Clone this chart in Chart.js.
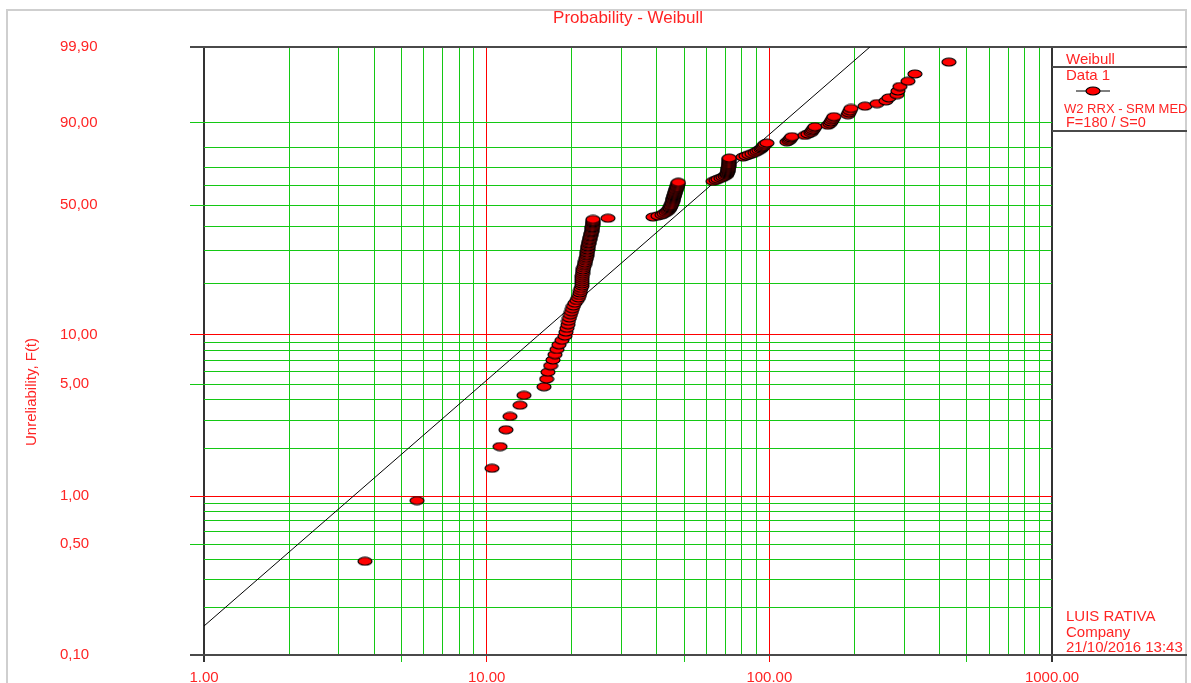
<!DOCTYPE html>
<html>
<head>
<meta charset="utf-8">
<title>Probability - Weibull</title>
<script src="https://cdn.jsdelivr.net/npm/chart.js@4.4.1/dist/chart.umd.min.js"></script>
<style>
  html, body { margin: 0; padding: 0; background: #fff; }
  #chart { display: block; }
</style>
</head>
<body>
<canvas id="chart" width="1191" height="683"></canvas>
<script>
// Weibull probability plot - 180 failures, median ranks

// failure times (sorted)
const failTimes = [
    3.71, 5.67, 10.44, 11.15, 11.70, 12.09, 13.12, 13.55, 15.95, 16.30,
    16.48, 16.84, 17.16, 17.44, 17.73, 18.02, 18.47, 18.92, 19.08, 19.23,
    19.39, 19.47, 19.63, 19.79, 19.95, 20.11, 20.28, 20.53, 20.86, 21.12,
    21.29, 21.38, 21.47, 21.56, 21.73, 21.73, 21.73, 21.73, 21.73, 21.79,
    21.83, 21.88, 21.91, 22.00, 22.10, 22.19, 22.27, 22.36, 22.46, 22.51,
    22.58, 22.64, 22.67, 22.71, 22.75, 22.78, 22.82, 22.88, 22.93, 23.01,
    23.06, 23.12, 23.19, 23.25, 23.31, 23.38, 23.44, 23.50, 23.58, 23.60,
    23.63, 23.65, 23.69, 23.71, 23.74, 23.77, 23.77, 23.77, 26.86, 38.75,
    40.36, 41.70, 42.39, 43.09, 43.62, 43.98, 44.33, 44.51, 44.70, 44.88,
    45.06, 45.25, 45.36, 45.47, 45.58, 45.69, 45.80, 45.91, 46.02, 46.14,
    46.25, 46.36, 46.48, 46.63, 46.77, 46.93, 47.08, 47.20, 47.31, 47.43,
    47.54, 47.66, 63.17, 64.73, 65.80, 67.43, 68.54, 69.66, 70.53, 70.80,
    70.99, 71.15, 71.33, 71.44, 71.56, 71.67, 71.74, 71.79, 71.85, 71.90,
    71.97, 71.97, 72.03, 72.09, 72.15, 80.66, 82.65, 84.69, 86.78, 88.92,
    90.39, 91.88, 93.39, 94.16, 94.93, 95.70, 96.48, 98.06, 115.4, 117.3,
    118.3, 119.2, 120.2, 133.6, 136.9, 140.3, 141.4, 142.6, 143.8, 145.0,
    161.2, 163.8, 165.2, 166.5, 167.9, 169.2, 189.7, 191.2, 192.8, 194.4,
    217.9, 240.3, 258.5, 264.9, 282.8, 285.1, 289.7, 309.3, 327.3, 431.9
];

// unreliability F(t) in %, one per failure
const unreliability = [
    0.39, 0.94, 1.50, 2.05, 2.61, 3.16, 3.71, 4.27, 4.82, 5.38,
    5.93, 6.49, 7.04, 7.59, 8.15, 8.70, 9.26, 9.81, 10.37, 10.92,
    11.47, 12.03, 12.58, 13.14, 13.69, 14.25, 14.80, 15.35, 15.91, 16.46,
    17.02, 17.57, 18.13, 18.68, 19.24, 19.79, 20.34, 20.90, 21.45, 22.01,
    22.56, 23.12, 23.67, 24.22, 24.78, 25.33, 25.89, 26.44, 27.00, 27.55,
    28.10, 28.66, 29.21, 29.77, 30.32, 30.88, 31.43, 31.98, 32.54, 33.09,
    33.65, 34.20, 34.76, 35.31, 35.86, 36.42, 36.97, 37.53, 38.08, 38.64,
    39.19, 39.75, 40.30, 40.85, 41.41, 41.96, 42.52, 43.07, 43.63, 44.18,
    44.73, 45.29, 45.84, 46.40, 46.95, 47.51, 48.06, 48.61, 49.17, 49.72,
    50.28, 50.83, 51.39, 51.94, 52.49, 53.05, 53.60, 54.16, 54.71, 55.27,
    55.82, 56.37, 56.93, 57.48, 58.04, 58.59, 59.15, 59.70, 60.25, 60.81,
    61.36, 61.92, 62.47, 63.03, 63.58, 64.14, 64.69, 65.24, 65.80, 66.35,
    66.91, 67.46, 68.02, 68.57, 69.12, 69.68, 70.23, 70.79, 71.34, 71.90,
    72.45, 73.00, 73.56, 74.11, 74.67, 75.22, 75.78, 76.33, 76.88, 77.44,
    77.99, 78.55, 79.10, 79.66, 80.21, 80.76, 81.32, 81.87, 82.43, 82.98,
    83.54, 84.09, 84.65, 85.20, 85.75, 86.31, 86.86, 87.42, 87.97, 88.53,
    89.08, 89.63, 90.19, 90.74, 91.30, 91.85, 92.41, 92.96, 93.51, 94.07,
    94.62, 95.18, 95.73, 96.29, 96.84, 97.39, 97.95, 98.50, 99.06, 99.61
];

// fitted Weibull line (2 params)
const weibullBeta = 1.552;
const weibullEta = 65.3;
const fitRange = [1, 1000];

// axes
const xGrid = [1, 2, 3, 4, 5, 6, 7, 8, 9, 10, 20, 30, 40, 50, 60, 70, 80, 90,
               100, 200, 300, 400, 500, 600, 700, 800, 900, 1000];
const xLabelVals = [1, 10, 100, 1000];
const xLabelText = ['1.00', '10.00', '100.00', '1000.00'];
const xRedVals = [10, 100];
const xMidVals = [5, 50, 500];

const yGrid = [0.1, 0.2, 0.3, 0.4, 0.5, 0.6, 0.7, 0.8, 0.9, 1, 2, 3, 4, 5, 6, 7, 8, 9,
               10, 20, 30, 40, 50, 60, 70, 80, 90, 99.9];
const yLabelVals = [0.1, 0.5, 1, 5, 10, 50, 90, 99.9];
const yLabelText = ['0,10', '0,50', '1,00', '5,00', '10,00', '50,00', '90,00', '99,90'];
const yRedVals = [1, 10];

const chartTitle = 'Probability - Weibull';
const yTitle = 'Unreliability, F(t)';
const legendHead = 'Weibull';
const legendSeries = 'Data 1';
const legendInfo = ['W2 RRX - SRM MED', 'F=180 / S=0'];
const footerText = ['LUIS RATIVA', 'Company', '21/10/2016 13:43'];

const RED = '#ff0000';
const TEXT_RED = '#ff2424';
const GREEN = '#14c814';
const DARK = '#4a4a4a';
const FONT = "'Liberation Sans', Arial, sans-serif";

Chart.defaults.font.family = FONT;

// weibull paper transform
const weib = pct => Math.log(-Math.log(1 - pct / 100));

function makeDot(w, h) {
    const c = document.createElement('canvas');
    c.width = w; c.height = h;
    const g = c.getContext('2d');
    g.beginPath();
    g.ellipse(w / 2, h / 2, w / 2 - 1, h / 2 - 1, 0, 0, Math.PI * 2);
    g.fillStyle = RED;
    g.fill();
    g.lineWidth = 1.2;
    g.strokeStyle = '#000';
    g.stroke();
    return c;
}
const dot = makeDot(16, 10);

function xColor(v) {
    if (v === 1 || v === 1000) return '#333';
    if (xRedVals.includes(v)) return RED;
    return GREEN;
}
function yColor(p) {
    if (p === 0.1 || p === 99.9) return DARK;
    if (yRedVals.includes(p)) return RED;
    return GREEN;
}

// frame, titles, legend box and footer
const decorPlugin = {
    id: 'decor',
    afterDraw(chart) {
        const c = chart.ctx;
        const a = chart.chartArea;
        const W = chart.width;
        const boxRight = W - 4;
        c.save();

        // outer frame
        c.strokeStyle = '#cfcfcf';
        c.lineWidth = 2;
        c.strokeRect(7, 10, W - 12, chart.height + 10);

        // lines of the legend column
        c.strokeStyle = DARK;
        c.lineWidth = 2;
        [a.top, a.top + 20, a.top + 84, a.bottom].forEach(y => {
            c.beginPath();
            c.moveTo(a.right, y);
            c.lineTo(boxRight, y);
            c.stroke();
        });

        c.fillStyle = TEXT_RED;
        c.textBaseline = 'middle';

        // title
        c.font = '17px ' + FONT;
        c.textAlign = 'center';
        c.fillText(chartTitle, (a.left + a.right) / 2, 18);

        // y title
        c.save();
        c.font = '15px ' + FONT;
        c.translate(32, 392);
        c.rotate(-Math.PI / 2);
        c.fillText(yTitle, 0, 0);
        c.restore();

        // legend texts
        c.textAlign = 'left';
        const lx = a.right + 14;
        c.font = '15px ' + FONT;
        c.fillText(legendHead, lx, a.top + 13);
        c.fillText(legendSeries, lx, a.top + 29);
        c.font = '13px ' + FONT;
        c.fillText(legendInfo[0], lx - 2, a.top + 62);
        c.font = '14.5px ' + FONT;
        c.fillText(legendInfo[1], lx, a.top + 76);

        // legend marker
        c.strokeStyle = '#000';
        c.lineWidth = 1;
        c.beginPath();
        c.moveTo(a.right + 24, a.top + 44);
        c.lineTo(a.right + 58, a.top + 44);
        c.stroke();
        c.drawImage(dot, a.right + 41 - dot.width / 2, a.top + 44 - dot.height / 2);

        // footer
        c.font = '15px ' + FONT;
        footerText.forEach((t, i) => c.fillText(t, lx, a.bottom - 38 + i * 15.5));

        c.restore();
    }
};

const ctx = document.getElementById('chart').getContext('2d');

new Chart(ctx, {
    type: 'scatter',
    data: {
        datasets: [
            {
                label: legendSeries,
                data: failTimes.map((t, i) => ({ x: t, y: weib(unreliability[i]) })),
                pointStyle: dot,
                pointRadius: 6,
                order: 1
            },
            {
                label: legendHead,
                type: 'line',
                data: fitRange.map(t => ({ x: t, y: weibullBeta * Math.log(t / weibullEta) })),
                borderColor: '#000',
                borderWidth: 1,
                pointRadius: 0,
                fill: false,
                order: 2
            }
        ]
    },
    options: {
        responsive: false,
        animation: false,
        devicePixelRatio: 1,
        layout: { padding: { left: 60, right: 139, top: 47, bottom: 0 } },
        plugins: {
            legend: { display: false },
            tooltip: { enabled: false },
            title: { display: false }
        },
        scales: {
            x: {
                type: 'logarithmic',
                min: 1,
                max: 1000,
                afterBuildTicks: s => { s.ticks = xGrid.map(v => ({ value: v })); },
                afterFit: s => { s.height = 28; },
                border: { display: false },
                grid: {
                    color: c => xColor(xGrid[c.index]),
                    lineWidth: c => (xGrid[c.index] === 1 || xGrid[c.index] === 1000) ? 2 : 1,
                    tickLength: 7,
                    tickColor: c => {
                        const v = xGrid[c.index];
                        if (xLabelVals.includes(v) || xMidVals.includes(v)) return xColor(v);
                        return 'rgba(0,0,0,0)';
                    }
                },
                ticks: {
                    autoSkip: false,
                    maxRotation: 0,
                    padding: 7,
                    color: TEXT_RED,
                    font: { size: 15 },
                    callback: (v, i) => {
                        const k = xLabelVals.indexOf(xGrid[i]);
                        return k >= 0 ? xLabelText[k] : '';
                    }
                }
            },
            y: {
                type: 'linear',
                min: weib(0.1),
                max: weib(99.9),
                afterBuildTicks: s => { s.ticks = yGrid.map(p => ({ value: weib(p) })); },
                afterFit: s => { s.width = 144; },
                border: { display: false },
                grid: {
                    color: c => yColor(yGrid[c.index]),
                    lineWidth: c => (yGrid[c.index] === 0.1 || yGrid[c.index] === 99.9) ? 2 : 1,
                    tickLength: 14,
                    tickColor: c => {
                        const p = yGrid[c.index];
                        if (yLabelVals.includes(p)) return yColor(p);
                        return 'rgba(0,0,0,0)';
                    }
                },
                ticks: {
                    autoSkip: false,
                    crossAlign: 'far',
                    color: TEXT_RED,
                    font: { size: 15 },
                    callback: (v, i) => {
                        const k = yLabelVals.indexOf(yGrid[i]);
                        return k >= 0 ? yLabelText[k] : '';
                    }
                }
            }
        }
    },
    plugins: [decorPlugin]
});
</script>
</body>
</html>
